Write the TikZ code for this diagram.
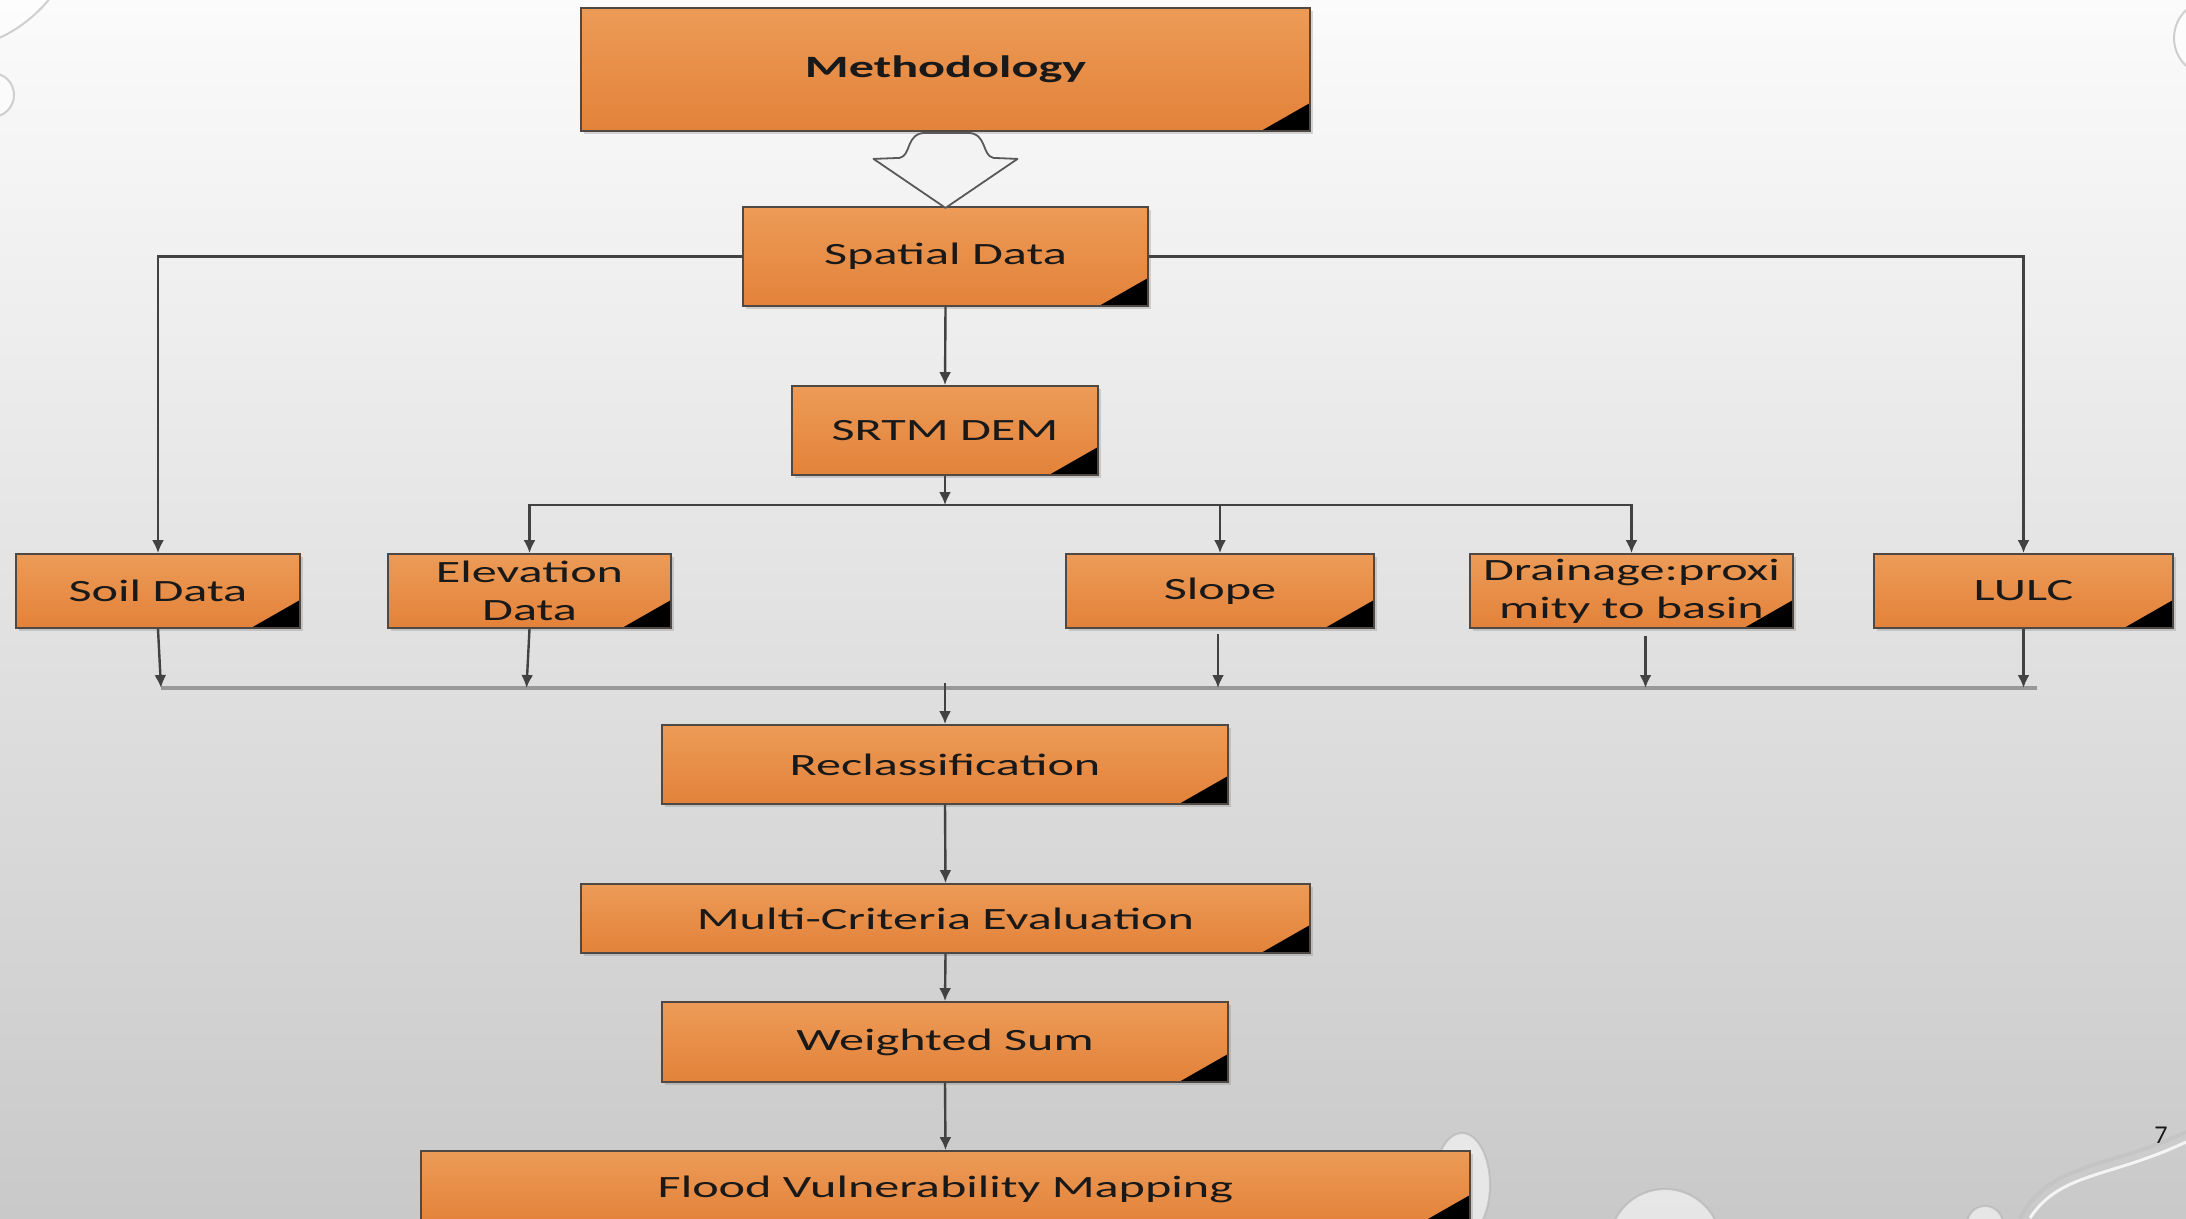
\documentclass[tikz,border=0pt]{standalone}
\usepackage{fontspec}
\setmainfont{Carlito}
\newfontfamily\boxfont{Carlito}[FakeStretch=1.62]
\newfontfamily\numfont{Lato}
\usetikzlibrary{arrows.meta,shadows,calc}

\definecolor{boxtop}{HTML}{EC9B57}
\definecolor{boxbot}{HTML}{E3823A}
\definecolor{boxline}{HTML}{4F4843}
\definecolor{conncol}{HTML}{424242}
\definecolor{collectcol}{HTML}{989898}
\definecolor{bgtop}{HTML}{FBFBFB}
\definecolor{bgmid}{HTML}{E8E8E8}
\definecolor{bgbot}{HTML}{C9C9C9}
\definecolor{arrowfill}{HTML}{F3F3F3}

\begin{document}
\begin{tikzpicture}[x=1pt,y=-1pt,
  box/.style={draw=boxline, line width=1.8pt, top color=boxtop, bottom color=boxbot,
    inner sep=0pt, align=center, font=\boxfont\fontsize{31}{38}\selectfont, text=black!90,
    drop shadow={shadow xshift=2.5pt, shadow yshift=-2.5pt, opacity=0.3},
    path picture={\fill[black] (path picture bounding box.south east) -- ++(-49pt,0pt) -- ++(49pt,28pt) -- cycle;}},
  conn/.style={draw=conncol, line width=2.4pt, -{Latex[length=13pt,width=12pt]}},
  collect/.style={draw=collectcol, line width=4pt},
  blockarrow/.style={draw=black!65, line width=1.8pt, fill=arrowfill, line join=round},
  bubble/.style={fill=white, fill opacity=0.55, draw=black!30, line width=2pt, draw opacity=0.6}
]
\useasboundingbox (0,0) rectangle (2186,1218);
\begin{scope}
\clip (0,0) rectangle (2186,1218);
\shade[top color=bgtop, middle color=bgmid, bottom color=bgbot] (0,0) rectangle (2186,1218);
% decorative drops
\path[bubble] (-60,-90) circle[radius=141];
\path[bubble] (-8,95) circle[radius=22];
\path[bubble] (2212,38) circle[radius=38];
\path[bubble] (1462,1185) ellipse[x radius=28, y radius=52];
\path[bubble] (1665,1245) circle[radius=56];
\path[bubble] (1985,1224) circle[radius=18];
\draw[white, line width=3pt, opacity=0.8] (2030,1218) .. controls (2060,1172) and (2110,1178) .. (2186,1142);
\draw[black!25, line width=4pt, opacity=0.5] (2020,1218) .. controls (2050,1162) and (2110,1168) .. (2186,1132);

% nodes
\node[box, minimum width=729pt, minimum height=123pt] (meth) at (945.5,69.5) {\bfseries Methodology};
\node[box, minimum width=405pt, minimum height=99pt] (spatial) at (945.5,256.5) {Spatial Data};
\node[box, minimum width=306pt, minimum height=89pt] (srtm) at (945,430.5) {SRTM DEM};
\node[box, minimum width=284pt, minimum height=74pt] (soil) at (158,591) {Soil Data};
\node[box, minimum width=283pt, minimum height=74pt] (elev) at (529.5,591) {Elevation\\Data};
\node[box, minimum width=308pt, minimum height=74pt] (slope) at (1220,591) {Slope};
\node[box, minimum width=323pt, minimum height=74pt] (drain) at (1631.5,591) {Drainage:proxi\\mity to basin};
\node[box, minimum width=299pt, minimum height=74pt] (lulc) at (2023.5,591) {LULC};
\node[box, minimum width=566pt, minimum height=79pt] (reclass) at (945,764.5) {Reclassification};
\node[box, minimum width=729pt, minimum height=69pt] (mce) at (945.5,918.5) {Multi-Criteria Evaluation};
\node[box, minimum width=566pt, minimum height=80pt] (ws) at (945,1042) {Weighted Sum};
\node[box, minimum width=1049pt, minimum height=72pt, text depth=0pt] (fvm) at (945.5,1187) {Flood Vulnerability Mapping};

\node[font=\numfont\fontsize{23}{23}\selectfont, text=black!90] (pnum) at (2161,1135) {7};

% block arrow between Methodology and Spatial Data
\draw[blockarrow, shift={(meth.south)}] (-72,27) -- (-46,26)
  .. controls (-34,24) and (-40,1) .. (-20,1) -- (22,1)
  .. controls (42,1) and (36,24) .. (48,26) -- (72,27) -- (0,76) -- cycle;

% connectors
\coordinate (j1) at (945,505);
\coordinate (jb) at (945,688);
\coordinate (colL) at (161,688);
\coordinate (colR) at (2037,688);

\draw[conn] (spatial.west) -| (soil.north);
\draw[conn] (spatial.east) -| (lulc.north);
\draw[conn] (spatial.south) -- (srtm.north);
\draw[conn] (srtm.south) -- (j1);
\draw[conn] (j1) -| (elev.north);
\draw[conn] (j1) -| (slope.north);
\draw[conn] (j1) -| (drain.north);

\draw[collect] (colL) -- (colR);
\draw[conn] (soil.south) -- ($(soil.south |- jb)+(3,0)$);
\draw[conn] (elev.south) -- ($(elev.south |- jb)+(-3,0)$);
\draw[conn] ($(slope.south)+(-2,5)$) -- ($(slope.south |- jb)+(-2,0)$);
\draw[conn] ($(drain.south)+(14,7)$) -- ($(drain.south |- jb)+(14,0)$);
\draw[conn] (lulc.south) -- (lulc.south |- jb);
\draw[conn] ($(jb)+(0,-5)$) -- (reclass.north);

\draw[conn] (reclass.south) -- (mce.north);
\draw[conn] (mce.south) -- (ws.north);
\draw[conn] (ws.south) -- (fvm.north);
\end{scope}
\end{tikzpicture}
\end{document}
